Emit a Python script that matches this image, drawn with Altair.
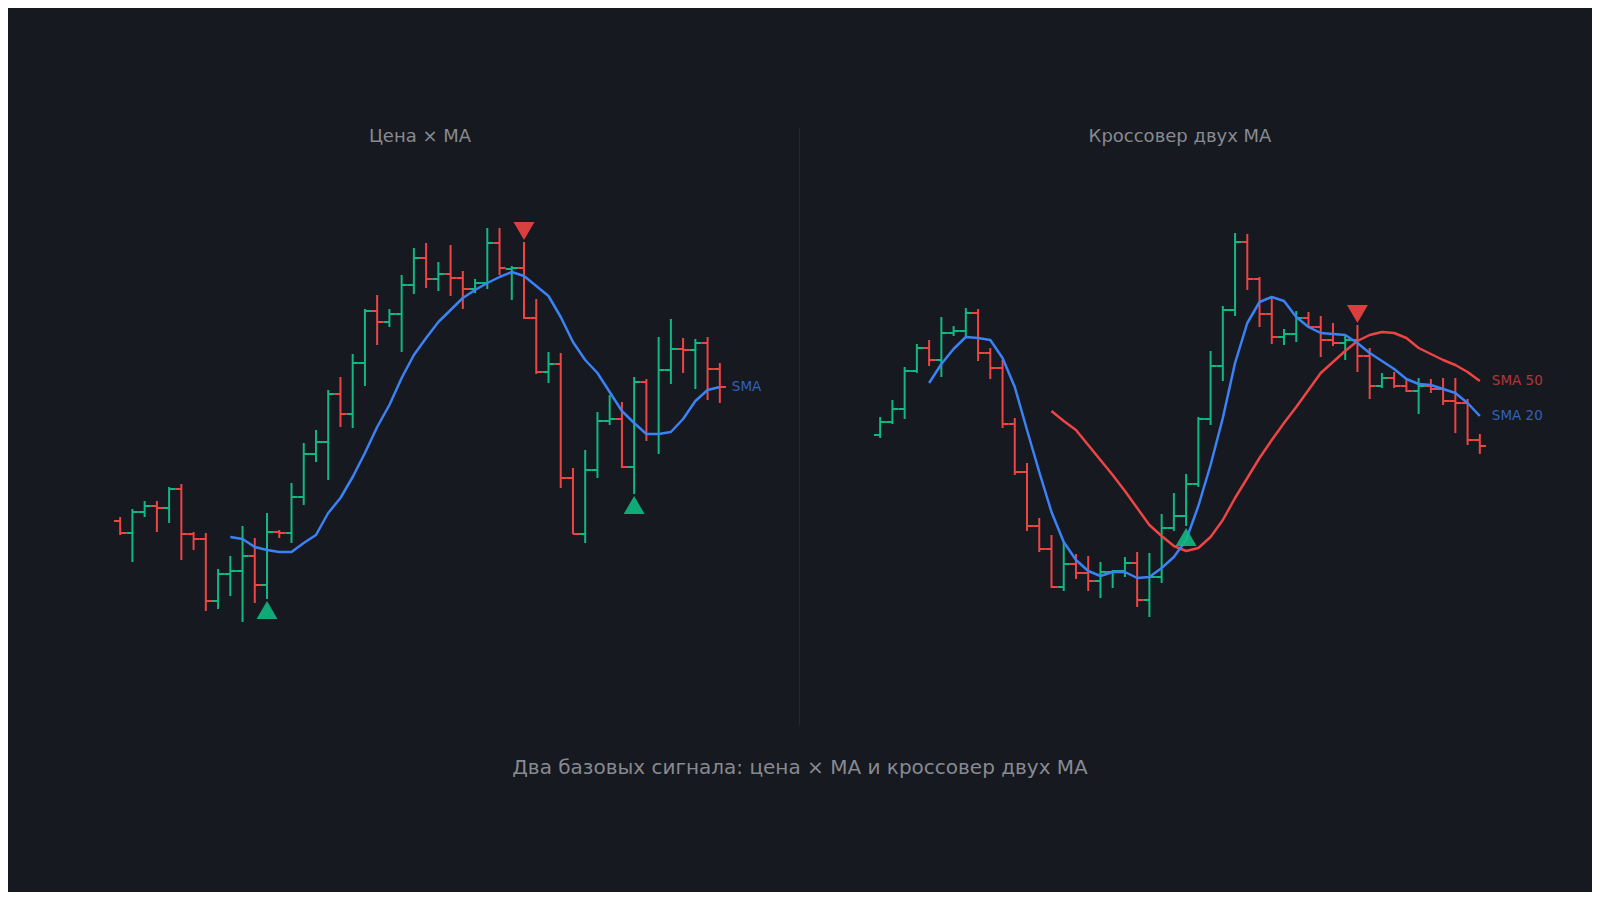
import altair as alt
import pandas as pd

BG = "#161920"
GREEN = "#10b981"
RED = "#ef4444"
BLUE = "#3b82f6"
TEXT = "#878a90"
DIV = "#242830"
FONT = "DejaVu Sans"

# ---------------- left panel: price x MA ----------------
L_open = [279, 267, 288, 294, 292, 311, 266, 261, 199, 226, 229, 244, 215, 268, 267, 303, 346, 358, 406, 386,
          437, 489, 478, 486, 515, 542, 521, 526, 522, 511, 517, 557, 531, 532, 482, 428, 436, 322, 266, 330,
          379, 381, 333, 418, 366, 430, 451, 450, 457, 431]
L_high = [283, 291, 299, 299, 313, 316, 268, 267, 231, 244, 274, 262, 287, 270, 317, 357, 370, 410, 423, 446,
          491, 505, 491, 525, 552, 557, 538, 555, 529, 521, 572, 572, 534, 558, 501, 448, 447, 332, 350, 388,
          405, 398, 423, 421, 463, 481, 462, 461, 463, 437]
L_low = [265, 238, 283, 268, 277, 240, 250, 189, 191, 204, 178, 197, 201, 262, 257, 295, 338, 320, 373, 372,
         414, 455, 473, 448, 506, 512, 509, 504, 491, 507, 511, 525, 500, 481, 426, 417, 312, 266, 257, 322,
         375, 332, 306, 359, 346, 416, 427, 411, 400, 397]
L_close = [267, 288, 294, 292, 311, 266, 261, 199, 226, 229, 244, 215, 268, 267, 303, 346, 358, 406, 386, 437,
           489, 478, 486, 515, 542, 521, 526, 522, 511, 517, 557, 532, 532, 482, 428, 436, 322, 266, 330, 379,
           381, 333, 418, 366, 430, 451, 450, 457, 431, 413]
L_sma = [None] * 9 + [263, 261, 253, 250, 248, 248, 257, 265, 287, 302, 323, 347, 373, 395, 422, 445, 462, 478,
                      490, 502, 510, 517, 523, 528, 524, 514, 504, 483, 458, 440, 427, 408, 389, 377, 366, 366,
                      368, 381, 399, 410, 413]
L_buy = [12, 42]
L_sell = [33]

# ---------------- right panel: two-MA crossover ----------------
R_open = [365, 378, 391, 429, 452, 440, 467, 469, 487, 447, 432, 376, 328, 274, 251, 213, 236, 227, 219, 228,
          229, 237, 200, 223, 272, 284, 316, 381, 434, 490, 558, 521, 486, 463, 466, 482, 473, 460, 457, 460,
          444, 414, 422, 414, 409, 414, 411, 399, 397, 360]
R_high = [383, 400, 433, 456, 460, 483, 474, 492, 491, 452, 440, 382, 337, 282, 265, 258, 246, 244, 238, 230,
          243, 248, 247, 286, 307, 326, 383, 449, 494, 567, 566, 523, 504, 471, 489, 488, 484, 477, 464, 475,
          452, 427, 428, 420, 422, 421, 422, 422, 401, 366]
R_low = [362, 376, 381, 427, 434, 423, 464, 464, 439, 421, 372, 325, 269, 248, 212, 209, 221, 209, 202, 212,
         223, 193, 183, 217, 269, 274, 313, 375, 419, 484, 510, 473, 456, 455, 458, 473, 443, 454, 440, 428,
         401, 412, 412, 408, 386, 407, 395, 367, 355, 346]
R_close = [378, 391, 429, 452, 440, 467, 469, 487, 447, 432, 376, 328, 274, 251, 213, 236, 227, 219, 228, 229,
           237, 200, 223, 272, 284, 316, 381, 434, 490, 558, 521, 486, 463, 466, 482, 473, 460, 457, 460, 444,
           414, 422, 414, 409, 414, 411, 399, 397, 360, 354]
R_sma20 = [None] * 4 + [417, 436, 451, 463, 462, 460, 442, 413, 370, 328, 288, 258, 240, 229, 224, 228, 228, 222,
                        223, 232, 243, 260, 294, 335, 382, 437, 477, 498, 503, 499, 483, 473, 467, 466, 465, 457,
                        447, 439, 431, 421, 416, 415, 411, 407, 397, 384]
R_sma50 = [None] * 14 + [389, 379, 370, 355, 340, 325, 309, 292, 275, 264, 254, 249, 252, 263, 280, 302, 322, 342,
                         360, 377, 393, 410, 427, 438, 449, 459, 465, 468, 467, 462, 452, 446, 440, 435, 428, 419]
R_buy = [25]
R_sell = [39]

# ---------------- layout (pixels / scale limits only) ----------------
PW, PH = 792, 884
STEP = 12.238
L_XDOM = [-9.165, -9.165 + PW / STEP]
R_XDOM = [-6.55, -6.55 + PW / STEP]
YDOM = [-92, 792]


def panel(title, o, h, l, c, smas, buys, sells, xdom, title_x, divider=False, caption=None):
    n = len(o)
    df = pd.DataFrame({"i": list(range(n)), "open": o, "high": h, "low": l, "close": c,
                       "dir": ["up" if cc >= oo else "down" for oo, cc in zip(o, c)]})
    xs = alt.Scale(domain=xdom, nice=False, zero=False)
    ys = alt.Scale(domain=YDOM, nice=False, zero=False)
    color = alt.Color("dir:N", scale=alt.Scale(domain=["up", "down"], range=[GREEN, RED]), legend=None)
    base = alt.Chart(df)

    wick = base.mark_rule(strokeWidth=2).encode(
        x=alt.X("i:Q", scale=xs, axis=None),
        y=alt.Y("low:Q", scale=ys, axis=None), y2="high:Q", color=color)
    otick = base.transform_calculate(xl="datum.i - 0.5").mark_rule(strokeWidth=2).encode(
        x=alt.X("xl:Q", scale=xs, axis=None), x2="i:Q",
        y=alt.Y("open:Q", scale=ys, axis=None), color=color)
    ctick = base.transform_calculate(xr="datum.i + 0.5").mark_rule(strokeWidth=2).encode(
        x=alt.X("i:Q", scale=xs, axis=None), x2="xr:Q",
        y=alt.Y("close:Q", scale=ys, axis=None), color=color)

    layers = []
    if divider:
        layers.append(alt.Chart(pd.DataFrame({"a": [0]})).mark_rule(color=DIV, strokeWidth=1).encode(
            x=alt.value(PW - 0.5), y=alt.value(120), y2=alt.value(717)))
    layers += [wick, otick, ctick]

    for name, vals, col in smas:
        sdf = pd.DataFrame({"i": list(range(n)), "v": vals}).dropna()
        layers.append(alt.Chart(sdf).mark_line(color=col, strokeWidth=2.5, strokeJoin="round").encode(
            x=alt.X("i:Q", scale=xs, axis=None), y=alt.Y("v:Q", scale=ys, axis=None)))
        last = sdf.tail(1).assign(label=name)
        layers.append(alt.Chart(last).mark_text(
            color=col, opacity=0.7, fontSize=13.5, font=FONT, align="left", baseline="middle", dx=12).encode(
            x=alt.X("i:Q", scale=xs, axis=None), y=alt.Y("v:Q", scale=ys, axis=None), text="label:N"))

    bdf = df[df["i"].isin(buys)]
    sdf2 = df[df["i"].isin(sells)]
    layers.append(alt.Chart(bdf).mark_point(
        shape="triangle-up", filled=True, size=440, color=GREEN, opacity=0.9, yOffset=11, strokeWidth=0).encode(
        x=alt.X("i:Q", scale=xs, axis=None), y=alt.Y("low:Q", scale=ys, axis=None)))
    layers.append(alt.Chart(sdf2).mark_point(
        shape="triangle-down", filled=True, size=440, color=RED, opacity=0.9, yOffset=-11, strokeWidth=0).encode(
        x=alt.X("i:Q", scale=xs, axis=None), y=alt.Y("high:Q", scale=ys, axis=None)))

    layers.append(alt.Chart(pd.DataFrame({"t": [title]})).mark_text(
        color=TEXT, fontSize=18, font=FONT, align="center", baseline="middle").encode(
        x=alt.value(title_x), y=alt.value(129), text="t:N"))
    if caption:
        layers.append(alt.Chart(pd.DataFrame({"t": [caption]})).mark_text(
            color=TEXT, fontSize=20, font=FONT, align="center", baseline="middle").encode(
            x=alt.value(PW), y=alt.value(760), text="t:N"))

    return alt.layer(*layers).properties(width=PW, height=PH)


left = panel("Цена × МА", L_open, L_high, L_low, L_close,
             [("SMA", L_sma, BLUE)], L_buy, L_sell, L_XDOM, 412, divider=True,
             caption="Два базовых сигнала: цена × МА и кроссовер двух МА")
right = panel("Кроссовер двух МА", R_open, R_high, R_low, R_close,
              [("SMA 50", R_sma50, RED), ("SMA 20", R_sma20, BLUE)], R_buy, R_sell, R_XDOM, 380)

chart = alt.hconcat(left, right, spacing=0, bounds="flush").properties(
    padding=0
).configure(background=BG, font=FONT).configure_view(stroke=None)

chart.save("out.html", embed_options={"renderer": "svg", "actions": False})
